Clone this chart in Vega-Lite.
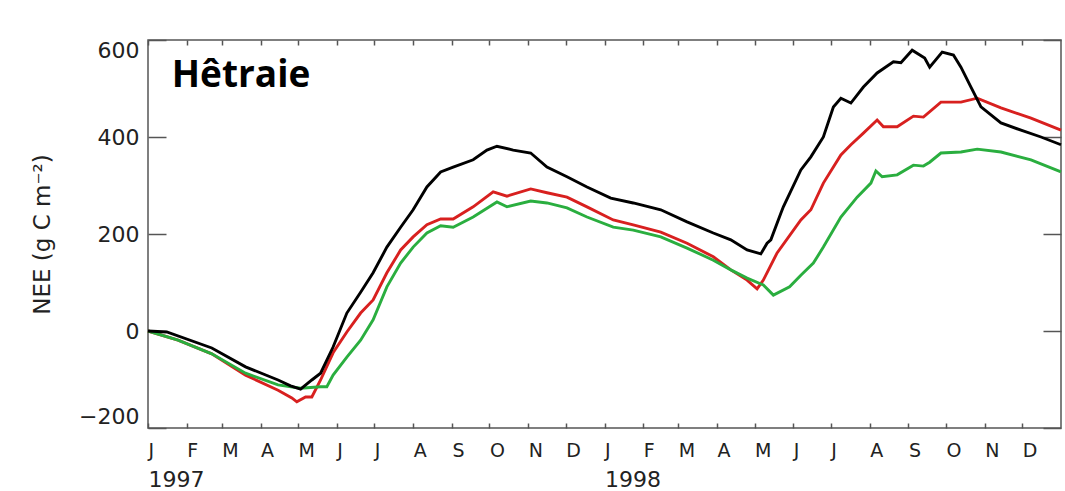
{
  "$schema": "https://vega.github.io/schema/vega-lite/v6.json",
  "width": 913,
  "height": 388,
  "autosize": {"type": "none"},
  "padding": {"left": 148, "top": 40, "right": 4, "bottom": 63},
  "background": "white",
  "config": {
    "view": {"stroke": "#555", "strokeWidth": 1.5},
    "axis": {"domain": false, "grid": false, "tickColor": "#555", "tickWidth": 1.5, "labelColor": "#222", "titleColor": "#222", "labelFont": "DejaVu Sans", "titleFont": "DejaVu Sans", "titleFontWeight": "normal"}
  },
  "datasets": {
    "red": [
      {"day": 0, "nee": 0}, {"day": 24, "nee": -19}, {"day": 51, "nee": -47}, {"day": 78, "nee": -91},
      {"day": 104, "nee": -122}, {"day": 115, "nee": -138}, {"day": 119, "nee": -146}, {"day": 126, "nee": -136},
      {"day": 131, "nee": -136}, {"day": 138, "nee": -101}, {"day": 148, "nee": -45}, {"day": 159, "nee": -2},
      {"day": 170, "nee": 37}, {"day": 180, "nee": 64}, {"day": 191, "nee": 120}, {"day": 202, "nee": 167},
      {"day": 212, "nee": 194}, {"day": 223, "nee": 219}, {"day": 234, "nee": 231}, {"day": 244, "nee": 231},
      {"day": 260, "nee": 256}, {"day": 276, "nee": 287}, {"day": 287, "nee": 278}, {"day": 306, "nee": 293},
      {"day": 319, "nee": 285}, {"day": 335, "nee": 276}, {"day": 351, "nee": 256}, {"day": 372, "nee": 229},
      {"day": 388, "nee": 219}, {"day": 410, "nee": 204}, {"day": 431, "nee": 181}, {"day": 452, "nee": 153},
      {"day": 466, "nee": 126}, {"day": 479, "nee": 105}, {"day": 487, "nee": 87}, {"day": 492, "nee": 105},
      {"day": 503, "nee": 161}, {"day": 522, "nee": 229}, {"day": 530, "nee": 250}, {"day": 540, "nee": 305},
      {"day": 554, "nee": 363}, {"day": 562, "nee": 384}, {"day": 572, "nee": 408}, {"day": 583, "nee": 435},
      {"day": 588, "nee": 421}, {"day": 599, "nee": 421}, {"day": 612, "nee": 443}, {"day": 620, "nee": 441},
      {"day": 634, "nee": 472}, {"day": 650, "nee": 472}, {"day": 663, "nee": 480}, {"day": 682, "nee": 460},
      {"day": 706, "nee": 439}, {"day": 730, "nee": 414}
    ],
    "green": [
      {"day": 0, "nee": 0}, {"day": 24, "nee": -19}, {"day": 51, "nee": -47}, {"day": 78, "nee": -87},
      {"day": 104, "nee": -111}, {"day": 122, "nee": -118}, {"day": 138, "nee": -115}, {"day": 143, "nee": -115},
      {"day": 148, "nee": -91}, {"day": 159, "nee": -54}, {"day": 170, "nee": -19}, {"day": 180, "nee": 23},
      {"day": 191, "nee": 91}, {"day": 202, "nee": 140}, {"day": 212, "nee": 173}, {"day": 223, "nee": 202},
      {"day": 234, "nee": 217}, {"day": 244, "nee": 214}, {"day": 260, "nee": 235}, {"day": 279, "nee": 266},
      {"day": 287, "nee": 256}, {"day": 306, "nee": 268}, {"day": 319, "nee": 264}, {"day": 335, "nee": 254},
      {"day": 351, "nee": 235}, {"day": 372, "nee": 214}, {"day": 388, "nee": 208}, {"day": 410, "nee": 194},
      {"day": 431, "nee": 171}, {"day": 452, "nee": 146}, {"day": 466, "nee": 126}, {"day": 479, "nee": 109},
      {"day": 492, "nee": 95}, {"day": 500, "nee": 74}, {"day": 513, "nee": 91}, {"day": 522, "nee": 115},
      {"day": 532, "nee": 140}, {"day": 540, "nee": 173}, {"day": 554, "nee": 235}, {"day": 567, "nee": 276},
      {"day": 578, "nee": 305}, {"day": 582, "nee": 330}, {"day": 587, "nee": 318}, {"day": 599, "nee": 322},
      {"day": 612, "nee": 342}, {"day": 620, "nee": 340}, {"day": 625, "nee": 348}, {"day": 634, "nee": 367},
      {"day": 650, "nee": 369}, {"day": 663, "nee": 375}, {"day": 682, "nee": 369}, {"day": 706, "nee": 353},
      {"day": 730, "nee": 328}
    ],
    "black": [
      {"day": 0, "nee": 0}, {"day": 15, "nee": -2}, {"day": 51, "nee": -35}, {"day": 78, "nee": -74},
      {"day": 104, "nee": -101}, {"day": 114, "nee": -113}, {"day": 122, "nee": -120}, {"day": 131, "nee": -101},
      {"day": 138, "nee": -87}, {"day": 148, "nee": -33}, {"day": 159, "nee": 37}, {"day": 170, "nee": 80},
      {"day": 180, "nee": 120}, {"day": 191, "nee": 173}, {"day": 202, "nee": 214}, {"day": 212, "nee": 250},
      {"day": 223, "nee": 297}, {"day": 234, "nee": 328}, {"day": 244, "nee": 338}, {"day": 260, "nee": 353},
      {"day": 271, "nee": 373}, {"day": 279, "nee": 381}, {"day": 292, "nee": 373}, {"day": 306, "nee": 367},
      {"day": 319, "nee": 338}, {"day": 335, "nee": 318}, {"day": 351, "nee": 297}, {"day": 370, "nee": 274},
      {"day": 388, "nee": 264}, {"day": 410, "nee": 250}, {"day": 431, "nee": 225}, {"day": 452, "nee": 202},
      {"day": 466, "nee": 188}, {"day": 479, "nee": 167}, {"day": 490, "nee": 159}, {"day": 495, "nee": 181},
      {"day": 498, "nee": 188}, {"day": 506, "nee": 243}, {"day": 508, "nee": 256}, {"day": 522, "nee": 332},
      {"day": 530, "nee": 359}, {"day": 540, "nee": 400}, {"day": 548, "nee": 462}, {"day": 554, "nee": 480},
      {"day": 562, "nee": 470}, {"day": 572, "nee": 503}, {"day": 583, "nee": 532}, {"day": 596, "nee": 555},
      {"day": 602, "nee": 553}, {"day": 611, "nee": 579}, {"day": 621, "nee": 563}, {"day": 625, "nee": 544},
      {"day": 635, "nee": 575}, {"day": 644, "nee": 569}, {"day": 650, "nee": 544}, {"day": 658, "nee": 503},
      {"day": 666, "nee": 462}, {"day": 682, "nee": 429}, {"day": 698, "nee": 414}, {"day": 714, "nee": 400},
      {"day": 730, "nee": 384}
    ],
    "label": [{"day": 19, "nee": 503, "text": "Hêtraie"}]
  },
  "layer": [
    {
      "data": {"name": "red"},
      "mark": {"type": "line", "color": "#d8201f", "strokeWidth": 2.9},
      "encoding": {
        "x": {"field": "day", "type": "quantitative", "scale": {"domain": [0, 730], "nice": false, "zero": false},
          "axis": {"orient": "bottom", "title": null, "values": [0,31,59,90,120,151,181,212,243,273,304,334,365,396,424,455,485,516,546,577,608,638,669,699],
            "labelExpr": "['J','F','M','A','M','J','J','A','S','O','N','D'][month(datetime(1997,0,1+datum.value))]",
            "tickSize": -5, "labelPadding": 18, "labelAlign": "left", "labelBaseline": "top", "labelFontSize": 19, "labelFlush": false, "labelOverlap": false}},
        "y": {"field": "nee", "type": "quantitative", "scale": {"domain": [-200, 600], "nice": false, "zero": false},
          "axis": {"orient": "left", "title": "NEE (g C m⁻²)", "values": [-200, 0, 200, 400, 600], "tickSize": -18, "labelPadding": 27,
            "labelFontSize": 22, "labelFlush": true, "titleFontSize": 23, "titlePadding": 24}}
      }
    },
    {
      "data": {"name": "green"},
      "mark": {"type": "line", "color": "#2aae3f", "strokeWidth": 2.9},
      "encoding": {
        "x": {"field": "day", "type": "quantitative", "scale": {"domain": [0, 730], "nice": false, "zero": false},
          "axis": {"orient": "top", "title": null, "labels": false, "values": [0,31,59,90,120,151,181,212,243,273,304,334,365,396,424,455,485,516,546,577,608,638,669,699], "tickSize": -5}},
        "y": {"field": "nee", "type": "quantitative", "scale": {"domain": [-200, 600], "nice": false, "zero": false},
          "axis": {"orient": "right", "title": null, "labels": false, "values": [-200, 0, 200, 400, 600], "tickSize": -18}}
      }
    },
    {
      "data": {"name": "black"},
      "mark": {"type": "line", "color": "#000000", "strokeWidth": 2.9},
      "encoding": {
        "x": {"field": "day", "type": "quantitative", "scale": {"domain": [0, 730], "nice": false, "zero": false},
          "axis": {"orient": "bottom", "title": null, "values": [0, 365], "labelExpr": "datum.value == 0 ? '1997' : '1998'",
            "ticks": false, "offset": 41, "labelPadding": 0, "labelAlign": "left", "labelBaseline": "top", "labelFontSize": 22, "labelFlush": false}},
        "y": {"field": "nee", "type": "quantitative", "scale": {"domain": [-200, 600], "nice": false, "zero": false}, "axis": null}
      }
    },
    {
      "data": {"name": "label"},
      "mark": {"type": "text", "align": "left", "baseline": "alphabetic", "font": "Open Sans", "fontWeight": "bold", "fontSize": 37, "color": "#000"},
      "encoding": {
        "x": {"field": "day", "type": "quantitative", "axis": null},
        "y": {"field": "nee", "type": "quantitative", "axis": null},
        "text": {"field": "text"}
      }
    }
  ],
  "resolve": {"scale": {"x": "shared", "y": "shared"}, "axis": {"x": "independent", "y": "independent"}}
}
